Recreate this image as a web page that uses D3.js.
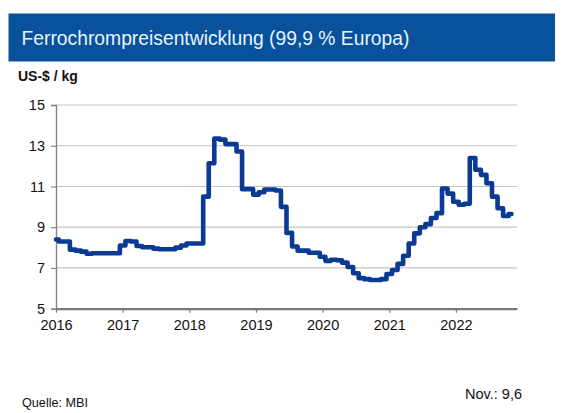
<!DOCTYPE html>
<html>
<head>
<meta charset="utf-8">
<script src="https://cdn.jsdelivr.net/npm/d3@7/dist/d3.min.js"></script>
<style>
  html, body { margin: 0; padding: 0; background: #ffffff; }
  svg { display: block; }
  text { font-family: "Liberation Sans", Arial, sans-serif; }
</style>
</head>
<body>
<svg id="chart" width="566" height="413"></svg>
<script>
// ---- data ----
const titleText = "Ferrochrompreisentwicklung (99,9 % Europa)";
const unitLabel = "US-$ / kg";
const sourceLabel = "Quelle: MBI";
const latestLabel = "Nov.: 9,6";
const yearLabels = ["2016", "2017", "2018", "2019", "2020", "2021", "2022"];
const yTickValues = [5, 7, 9, 11, 13, 15];
// monthly prices, Jan 2016 .. Nov 2022 (US-$ / kg)
const prices2016 = [8.4, 8.3, 8.3, 7.9, 7.85, 7.8, 7.7, 7.72, 7.72, 7.72, 7.72, 7.72];
const prices2017 = [8.1, 8.32, 8.3, 8.08, 8.02, 8.02, 7.95, 7.92, 7.92, 7.92, 8.0, 8.1];
const prices2018 = [8.2, 8.2, 8.2, 10.5, 12.14, 13.35, 13.3, 13.08, 13.08, 12.72, 10.87, 10.87];
const prices2019 = [10.6, 10.72, 10.85, 10.85, 10.8, 10.0, 8.72, 8.05, 7.85, 7.85, 7.75, 7.75];
const prices2020 = [7.55, 7.35, 7.4, 7.38, 7.26, 7.05, 6.74, 6.5, 6.45, 6.41, 6.41, 6.45];
const prices2021 = [6.7, 6.9, 7.2, 7.6, 8.2, 8.7, 9.0, 9.15, 9.45, 9.69, 10.9, 10.65];
const prices2022 = [10.25, 10.1, 10.15, 12.4, 11.82, 11.57, 11.16, 10.5, 9.93, 9.55, 9.65];

const prices = [].concat(prices2016, prices2017, prices2018, prices2019, prices2020, prices2021, prices2022);

// ---- layout ----
const svg = d3.select("#chart");
const plot = { left: 56, right: 517, top: 105, bottom: 308.7 };

// title bar
svg.append("rect")
  .attr("x", 8.5).attr("y", 13.5).attr("width", 546.5).attr("height", 48)
  .attr("fill", "#0a519b");
svg.append("text")
  .attr("x", 21.5).attr("y", 45)
  .attr("font-size", 19.3)
  .attr("fill", "#e6f4ff")
  .text(titleText);

svg.append("text")
  .attr("x", 18).attr("y", 81)
  .attr("font-size", 14).attr("font-weight", "bold")
  .attr("fill", "#111")
  .text(unitLabel);

// scales (x in months since Jan 2016, domain through Dec 2022)
const x = d3.scaleLinear().domain([0, 83]).range([plot.left, plot.right]);
const y = d3.scaleLinear().domain([5, 15]).range([plot.bottom, plot.top]);

// gridlines
svg.append("g")
  .selectAll("line")
  .data(yTickValues.filter(v => v > 5))
  .join("line")
  .attr("x1", plot.left).attr("x2", plot.right)
  .attr("y1", d => y(d)).attr("y2", d => y(d))
  .attr("stroke", "#c4c4c4").attr("stroke-width", 1.2);

// y axis
const yAxis = d3.axisLeft(y).tickValues(yTickValues).tickSize(5).tickPadding(6)
  .tickFormat(d3.format("d"));
const gy = svg.append("g").attr("transform", `translate(${plot.left},0)`).call(yAxis);
gy.select(".domain").attr("stroke", "#858585").attr("stroke-width", 1.4);
gy.selectAll(".tick line").attr("stroke", "#858585").attr("stroke-width", 1.2);
gy.selectAll(".tick text").attr("font-size", 14.5).attr("fill", "#111")
  .attr("font-family", "'Liberation Sans', Arial, sans-serif");

// x axis
const xAxis = d3.axisBottom(x)
  .tickValues(yearLabels.map((_, i) => i * 12))
  .tickSize(4).tickSizeOuter(0).tickPadding(7)
  .tickFormat((d, i) => yearLabels[i]);
const gx = svg.append("g").attr("transform", `translate(0,${plot.bottom})`).call(xAxis);
gx.select(".domain").attr("stroke", "#7a7a7a").attr("stroke-width", 2.2);
gx.selectAll(".tick line").attr("stroke", "#7a7a7a").attr("stroke-width", 1.2);
gx.selectAll(".tick text").attr("font-size", 14.5).attr("fill", "#111")
  .attr("font-family", "'Liberation Sans', Arial, sans-serif");

// price line
const line = d3.line()
  .x((d, i) => x(i))
  .y(d => y(d))
  .curve(d3.curveStep);
svg.append("path")
  .datum(prices)
  .attr("d", line)
  .attr("fill", "none")
  .attr("stroke", "#0a3a94")
  .attr("stroke-width", 4.6)
  .attr("stroke-linejoin", "round")
  .attr("stroke-linecap", "round");

// footer
svg.append("text")
  .attr("x", 22).attr("y", 407)
  .attr("font-size", 13)
  .attr("fill", "#111")
  .attr("textLength", 66).attr("lengthAdjust", "spacingAndGlyphs")
  .text(sourceLabel);
svg.append("text")
  .attr("x", 522).attr("y", 399)
  .attr("text-anchor", "end")
  .attr("font-size", 14.5)
  .attr("fill", "#111")
  .text(latestLabel);
</script>
</body>
</html>
